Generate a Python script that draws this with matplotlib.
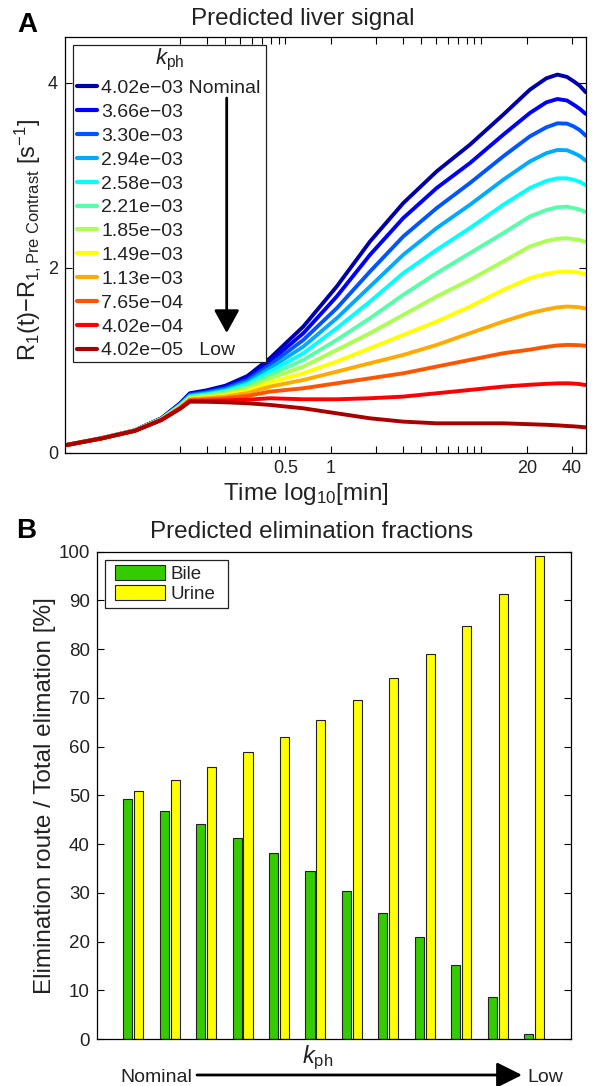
import matplotlib
matplotlib.use('Agg')
import matplotlib.pyplot as plt
import numpy as np
from matplotlib.legend_handler import HandlerLine2D, HandlerPatch
from matplotlib.patches import ArrowStyle

plt.rcParams['font.family'] = ['Liberation Sans', 'DejaVu Sans']
plt.rcParams['mathtext.fontset'] = 'custom'
plt.rcParams['mathtext.rm'] = 'Liberation Sans'
plt.rcParams['mathtext.it'] = 'Liberation Sans:italic'
plt.rcParams['mathtext.bf'] = 'Liberation Sans:bold'
plt.rcParams['axes.unicode_minus'] = True

# ---------------- data: panel A ----------------
kph_labels = ['4.02e−03', '3.66e−03', '3.30e−03', '2.94e−03', '2.58e−03', '2.21e−03',
              '1.85e−03', '1.49e−03', '1.13e−03', '7.65e−04', '4.02e−04', '4.02e−05']

time_min = [0.0172, 0.03, 0.05, 0.075, 0.1, 0.116, 0.15, 0.2, 0.28, 0.395, 0.658, 1.096,
            1.823, 3.03, 5.05, 8.4, 13.98, 21.0, 27, 32, 37, 41, 45, 49.3]

r1_4p02e3 = [.08, .157, .242, .372, .535, .643, .675, .725, .830, 1.022, 1.365, 1.798,
             2.285, 2.700, 3.043, 3.332, 3.657, 3.927, 4.05, 4.09, 4.065, 4.018, 3.97, 3.90]
r1_3p66e3 = [.08, .156, .241, .370, .530, .635, .664, .711, .808, .986, 1.293, 1.690,
             2.141, 2.538, 2.863, 3.133, 3.440, 3.675, 3.79, 3.826, 3.81, 3.765, 3.72, 3.665]
r1_3p30e3 = [.08, .156, .241, .368, .524, .627, .654, .697, .786, .950, 1.220, 1.563,
             1.960, 2.339, 2.646, 2.917, 3.206, 3.422, 3.52, 3.563, 3.56, 3.530, 3.49, 3.43]
r1_2p94e3 = [.08, .156, .240, .366, .519, .618, .643, .682, .764, .914, 1.148, 1.455,
             1.798, 2.141, 2.430, 2.682, 2.953, 3.151, 3.24, 3.275, 3.272, 3.242, 3.21, 3.16]
r1_2p58e3 = [.08, .155, .240, .364, .513, .610, .632, .668, .742, .877, 1.076, 1.347,
             1.635, 1.942, 2.195, 2.430, 2.682, 2.863, 2.94, 2.968, 2.968, 2.953, 2.93, 2.895]
r1_2p21e3 = [.08, .155, .239, .363, .508, .602, .622, .654, .720, .841, 1.004, 1.220,
             1.455, 1.708, 1.942, 2.159, 2.375, 2.556, 2.625, 2.655, 2.662, 2.646, 2.63, 2.605]
r1_1p85e3 = [.08, .155, .239, .361, .502, .593, .611, .639, .698, .805, .932, 1.112,
             1.293, 1.491, 1.690, 1.870, 2.069, 2.231, 2.29, 2.315, 2.32, 2.31, 2.30, 2.282]
r1_1p49e3 = [.08, .155, .238, .359, .497, .585, .600, .622, .670, .758, .859, .986,
             1.130, 1.274, 1.419, 1.581, 1.762, 1.888, 1.935, 1.955, 1.96, 1.955, 1.947, 1.932]
r1_1p13e3 = [.08, .155, .238, .357, .491, .577, .589, .607, .645, .715, .787, .877,
             .968, 1.058, 1.166, 1.293, 1.419, 1.509, 1.55, 1.572, 1.581, 1.578, 1.572, 1.56]
r1_7p65e4 = [.08, .154, .237, .356, .486, .569, .577, .589, .614, .661, .697, .751,
             .805, .859, .932, 1.004, 1.076, 1.115, 1.145, 1.16, 1.166, 1.165, 1.162, 1.157]
r1_4p02e4 = [.08, .154, .237, .354, .480, .560, .562, .566, .574, .589, .578, .578,
             .589, .607, .643, .679, .715, .735, .745, .75, .751, .748, .742, .732]
r1_4p02e5 = [.08, .154, .236, .352, .475, .552, .551, .545, .535, .517, .480, .426,
             .372, .336, .318, .318, .318, .308, .302, .296, .289, .285, .28, .274]

x_ticks_A = [0.1, 0.15, 0.2, 0.25, 0.3, 0.35, 0.4, 0.45, 0.5, 1, 2, 3, 4, 5, 6, 7, 8, 9, 10, 20, 40]
x_labels_A = ['', '', '', '', '', '', '', '', '0.5', '1', '', '', '', '', '', '', '', '', '', '20', '40']
y_ticks_A = [0, 2, 4]

# ---------------- data: panel B ----------------
bile = [49.2, 46.8, 44.2, 41.2, 38.1, 34.5, 30.4, 25.9, 21.0, 15.2, 8.6, 0.95]
urine = [50.8, 53.2, 55.8, 58.8, 61.9, 65.5, 69.6, 74.1, 79.0, 84.8, 91.4, 99.05]
y_ticks_B = list(range(0, 101, 10))

# ---------------- styles ----------------
jet12 = [(0, 0, 2/3), (0, 0, 1), (0, 1/3, 1), (0, 2/3, 1), (0, 1, 1), (1/3, 1, 2/3),
         (2/3, 1, 1/3), (1, 1, 0), (1, 2/3, 0), (1, 1/3, 0), (1, 0, 0), (2/3, 0, 0)]
TXT = '#222222'

W, H = 596, 1086
fig = plt.figure(figsize=(W / 100, H / 100), dpi=100)


def fr(x, y):
    return (x / W, 1 - y / H)


def rect(l, t, r, b):
    return [l / W, 1 - b / H, (r - l) / W, (b - t) / H]


# ================= Panel A =================
axA = fig.add_axes(rect(65, 36.7, 585.7, 452.7))
curves = [r1_4p02e3, r1_3p66e3, r1_3p30e3, r1_2p94e3, r1_2p58e3, r1_2p21e3,
          r1_1p85e3, r1_1p49e3, r1_1p13e3, r1_7p65e4, r1_4p02e4, r1_4p02e5]
handles = []
for vals, c in zip(curves, jet12):
    ln, = axA.plot(time_min, vals, color=c, lw=2.8, solid_capstyle='round',
                   solid_joinstyle='round')
    handles.append(ln)

axA.set_xscale('log')
axA.set_xlim(0.0172, 49.3)
axA.set_ylim(0, 4.5)
axA.set_xticks(x_ticks_A)
axA.set_xticklabels(x_labels_A)
axA.xaxis.set_minor_locator(matplotlib.ticker.NullLocator())
axA.set_yticks(y_ticks_A)
axA.tick_params(direction='in', top=True, right=True, length=5, width=0.8,
                labelsize=13, colors='black', labelcolor=TXT, pad=5)
for s in axA.spines.values():
    s.set_linewidth(0.9)

leg_labels = list(kph_labels)
leg_labels[0] = leg_labels[0] + ' Nominal'
leg_labels[-1] = leg_labels[-1] + '   Low'
fsA = 14 * 100 / 72
legA = axA.legend(handles, leg_labels, title=r'$k_{\mathrm{ph}}$', title_fontsize=16,
                  fontsize=14, loc='upper left', mode='expand',
                  bbox_to_anchor=(73 / W, 1 - 358 / H, 193 / W, 313 / H),
                  bbox_transform=fig.transFigure, borderaxespad=0, borderpad=0.12,
                  handlelength=22 / fsA, handletextpad=0.2, labelspacing=0.32,
                  fancybox=False, framealpha=1, edgecolor='#222222',
                  handler_map={h: HandlerLine2D(xpad=2 / fsA) for h in handles})
legA.get_frame().set_linewidth(0.9)
for t in legA.get_texts():
    t.set_color(TXT)
legA.get_title().set_color(TXT)
for lh in legA.get_lines():
    lh.set_linewidth(3.0)

# arrow inside legend
fig.add_artist(matplotlib.patches.FancyArrowPatch(
    fr(226.7, 98), fr(226.7, 333), transform=fig.transFigure,
    arrowstyle=ArrowStyle('-|>', head_length=1.0, head_width=0.55),
    mutation_scale=14, color='black', lw=2, shrinkA=0, shrinkB=0))

fig.text(*fr(27, 31.7), 'A', fontsize=20, fontweight='bold', ha='center', va='baseline')
fig.text(*fr(302.5, 25), 'Predicted liver signal', fontsize=17.5, ha='center',
         va='baseline', color=TXT)
fig.text(*fr(306, 500), r'Time log$_{10}$[min]', fontsize=17.5, ha='center',
         va='baseline', color=TXT)
fig.text(*fr(28, 240), r'R$_1$(t)−R$_{1,\mathrm{Pre\ Contrast}}$ [s$^{-1}$]',
         fontsize=17, rotation=90, ha='center', va='center', color=TXT)

# ================= Panel B =================
axB = fig.add_axes(rect(96.7, 551.7, 570.7, 1039))
xpos = np.arange(1, len(bile) + 1)
bB = axB.bar(xpos - 0.15, bile, 0.25, color='#33cc00', edgecolor='#222222',
             linewidth=0.8, label='Bile')
bU = axB.bar(xpos + 0.15, urine, 0.25, color='#ffff00', edgecolor='#222222',
             linewidth=0.8, label='Urine')
axB.set_xlim(0, 13)
axB.set_ylim(0, 100)
axB.set_xticks([])
axB.set_yticks(y_ticks_B)
axB.tick_params(direction='in', right=True, length=5, width=0.8, labelsize=13.5,
                labelcolor=TXT, pad=5)
for s in axB.spines.values():
    s.set_linewidth(0.9)

fsB = 13.5 * 100 / 72
hB, hU = bB.patches[0], bU.patches[0]
padB = 0.28
xpadB = (10 - padB * fsB) / fsB
legB = axB.legend([hB, hU], ['Bile', 'Urine'], loc='upper left', mode='expand',
                  bbox_to_anchor=(105 / W, 1 - 607 / H, 123 / W, 47 / H),
                  bbox_transform=fig.transFigure, borderaxespad=0, borderpad=padB,
                  fontsize=13.5, handlelength=50 / fsB + xpadB, handleheight=0.8,
                  handletextpad=0.3, labelspacing=0.135, fancybox=False,
                  framealpha=1, edgecolor='#222222',
                  handler_map={hB: HandlerPatch(xpad=xpadB), hU: HandlerPatch(xpad=xpadB)})
legB.get_frame().set_linewidth(0.9)
for t in legB.get_texts():
    t.set_color(TXT)

fig.text(*fr(26, 538.3), 'B', fontsize=20, fontweight='bold', ha='center', va='baseline')
fig.text(*fr(312, 538.3), 'Predicted elimination fractions', fontsize=17.5,
         ha='center', va='baseline', color=TXT)
fig.text(*fr(45, 795.5), 'Elimination route / Total elimation [%]', fontsize=17.5,
         rotation=90, ha='center', va='center', color=TXT)

fig.text(*fr(120, 1082), 'Nominal', fontsize=14, ha='left', va='baseline', color=TXT)
fig.text(*fr(527.7, 1082), 'Low', fontsize=14, ha='left', va='baseline', color=TXT)
fig.text(*fr(302, 1063), r'$k_{\mathrm{ph}}$', fontsize=17, ha='left', va='baseline',
         color=TXT)
fig.add_artist(matplotlib.patches.FancyArrowPatch(
    fr(197, 1075), fr(522, 1075), transform=fig.transFigure,
    arrowstyle=ArrowStyle('-|>', head_length=1.1, head_width=0.55),
    mutation_scale=14, color='black', lw=2, shrinkA=0, shrinkB=0))

fig.savefig('out.png', dpi=100)
